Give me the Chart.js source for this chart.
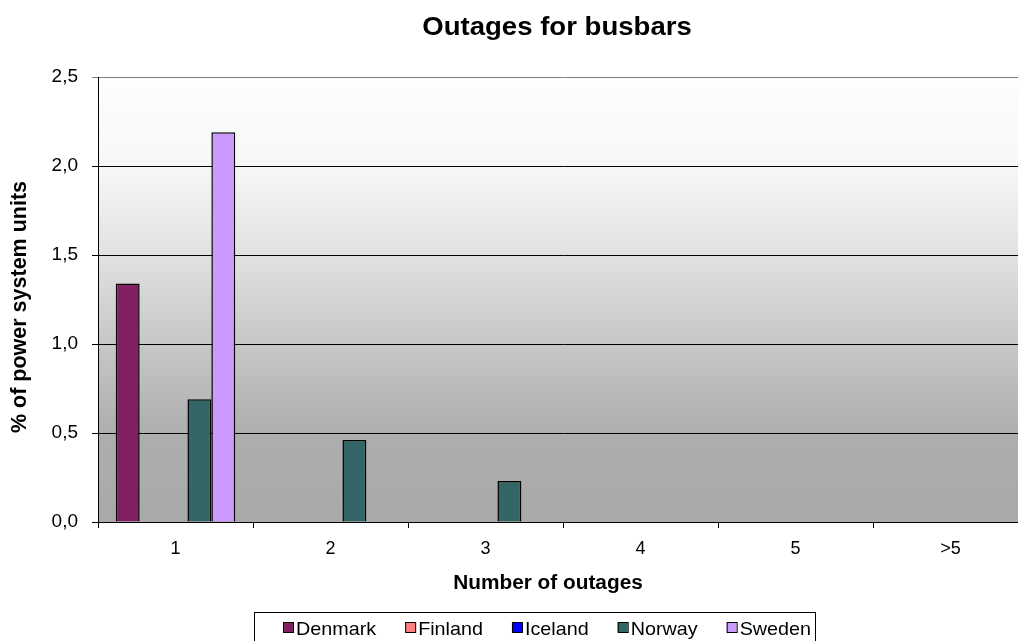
<!DOCTYPE html>
<html>
<head>
<meta charset="utf-8">
<script src="https://cdn.jsdelivr.net/npm/chart.js@4.4.1/dist/chart.umd.min.js"></script>
<style>
  html, body { margin: 0; padding: 0; background: #ffffff; overflow: hidden; width: 1018px; height: 641px; }
  #wrap { width: 1028px; height: 641px; position: relative; }
</style>
</head>
<body>
<div id="wrap"><canvas id="c" width="1028" height="641"></canvas></div>
<script>
const chartTitle = 'Outages for busbars';
const xAxisTitle = 'Number of outages';
const yAxisTitle = '% of power system units';
const categories = ['1', '2', '3', '4', '5', '>5'];
const seriesNames = ['Denmark', 'Finland', 'Iceland', 'Norway', 'Sweden'];
const denmark = [1.34, 0, 0, 0, 0, 0];
const finland = [0, 0, 0, 0, 0, 0];
const iceland = [0, 0, 0, 0, 0, 0];
const norway  = [0.69, 0.46, 0.23, 0, 0, 0];
const sweden  = [2.19, 0, 0, 0, 0, 0];
const yTicks = [0, 0.5, 1.0, 1.5, 2.0, 2.5];
const seriesColors = ['#802060', '#FF8080', '#0000FF', '#336666', '#CC99FF'];

const seriesValues = [denmark, finland, iceland, norway, sweden];
const FONT = '"Liberation Sans", Arial, Helvetica, sans-serif';

function stretchText(ctx, text, x, y, font, sx, align, baseline, rot) {
  ctx.save();
  ctx.font = font;
  ctx.fillStyle = '#000';
  ctx.textBaseline = baseline || 'alphabetic';
  ctx.translate(x, y);
  if (rot) ctx.rotate(rot);
  ctx.scale(sx, 1);
  ctx.textAlign = align || 'center';
  ctx.fillText(text, 0, 0);
  ctx.restore();
}

const deco = {
  id: 'deco',
  beforeDraw(chart) {
    const { ctx, chartArea: a } = chart;
    const g = ctx.createLinearGradient(0, a.top, 0, a.bottom);
    g.addColorStop(0.0, '#fefefe');
    g.addColorStop(0.2, '#f7f7f7');
    g.addColorStop(0.4, '#e1e1e1');
    g.addColorStop(0.6, '#c7c7c7');
    g.addColorStop(0.8, '#aeaeae');
    g.addColorStop(1.0, '#a9a9a9');
    ctx.save();
    ctx.fillStyle = g;
    ctx.fillRect(a.left, a.top, a.right - a.left, a.bottom - a.top);
    ctx.restore();
  },
  afterDraw(chart) {
    const { ctx } = chart;
    // chart title
    stretchText(ctx, chartTitle, 557, 35, 'bold 26px ' + FONT, 1.06, 'center');
    // x axis title
    stretchText(ctx, xAxisTitle, 548, 589, 'bold 20px ' + FONT, 1.04, 'center');
    // y axis title
    stretchText(ctx, yAxisTitle, 20, 307, 'bold 21.5px ' + FONT, 1.0, 'center', 'middle', -Math.PI / 2);
    // legend box
    ctx.save();
    ctx.strokeStyle = '#000';
    ctx.lineWidth = 1;
    ctx.strokeRect(254.5, 612.5, 561, 40);
    ctx.restore();
    // legend items
    const lf = '19px ' + FONT;
    const sxL = 1.04;
    ctx.save();
    ctx.font = lf;
    let x = 283;
    chart.data.datasets.forEach((ds) => {
      ctx.fillStyle = ds.backgroundColor;
      ctx.fillRect(x, 622, 10, 10);
      ctx.strokeStyle = '#000';
      ctx.lineWidth = 1;
      ctx.strokeRect(x + 0.5, 622.5, 10, 10);
      stretchText(ctx, ds.label, x + 13, 635, lf, sxL, 'left');
      ctx.font = lf;
      x += 13 + ctx.measureText(ds.label).width * sxL + 29;
    });
    ctx.restore();
  }
};

const datasets = seriesNames.map((name, i) => ({
  label: name,
  data: seriesValues[i],
  backgroundColor: seriesColors[i],
  borderColor: '#000000',
  borderWidth: 1.5,
  borderSkipped: 'start',
  categoryPercentage: 0.771,
  barPercentage: 1.0
}));

new Chart(document.getElementById('c'), {
  type: 'bar',
  data: { labels: categories, datasets },
  plugins: [deco],
  options: {
    responsive: false,
    devicePixelRatio: 1,
    animation: false,
    layout: { padding: { top: 77, left: 0, right: 0, bottom: 0 } },
    plugins: {
      legend: { display: false },
      title: { display: false },
      tooltip: { enabled: false }
    },
    scales: {
      x: {
        offset: true,
        afterFit(s) { s.height = 119; },
        grid: {
          display: true,
          offset: true,
          drawOnChartArea: false,
          drawTicks: true,
          tickLength: 6,
          color: '#000000',
          lineWidth: 1
        },
        border: { display: true, color: '#000000', width: 1 },
        ticks: {
          color: '#000000',
          font: { family: FONT, size: 18 },
          padding: 10,
          maxRotation: 0,
          autoSkip: false
        }
      },
      y: {
        min: 0,
        max: 2.5,
        afterFit(s) { s.width = 98; },
        afterBuildTicks(s) { s.ticks = yTicks.map(v => ({ value: v })); },
        grid: {
          display: true,
          drawTicks: true,
          tickLength: 6,
          color: (c) => (c.tick && c.tick.value === 2.5) ? '#808080' : '#000000',
          lineWidth: 1
        },
        border: { display: true, color: '#000000', width: 1 },
        ticks: {
          color: '#000000',
          font: { family: FONT, size: 19 },
          padding: 14,
          callback: (v) => Number(v).toFixed(1).replace('.', ',')
        }
      }
    }
  }
});
</script>
</body>
</html>
